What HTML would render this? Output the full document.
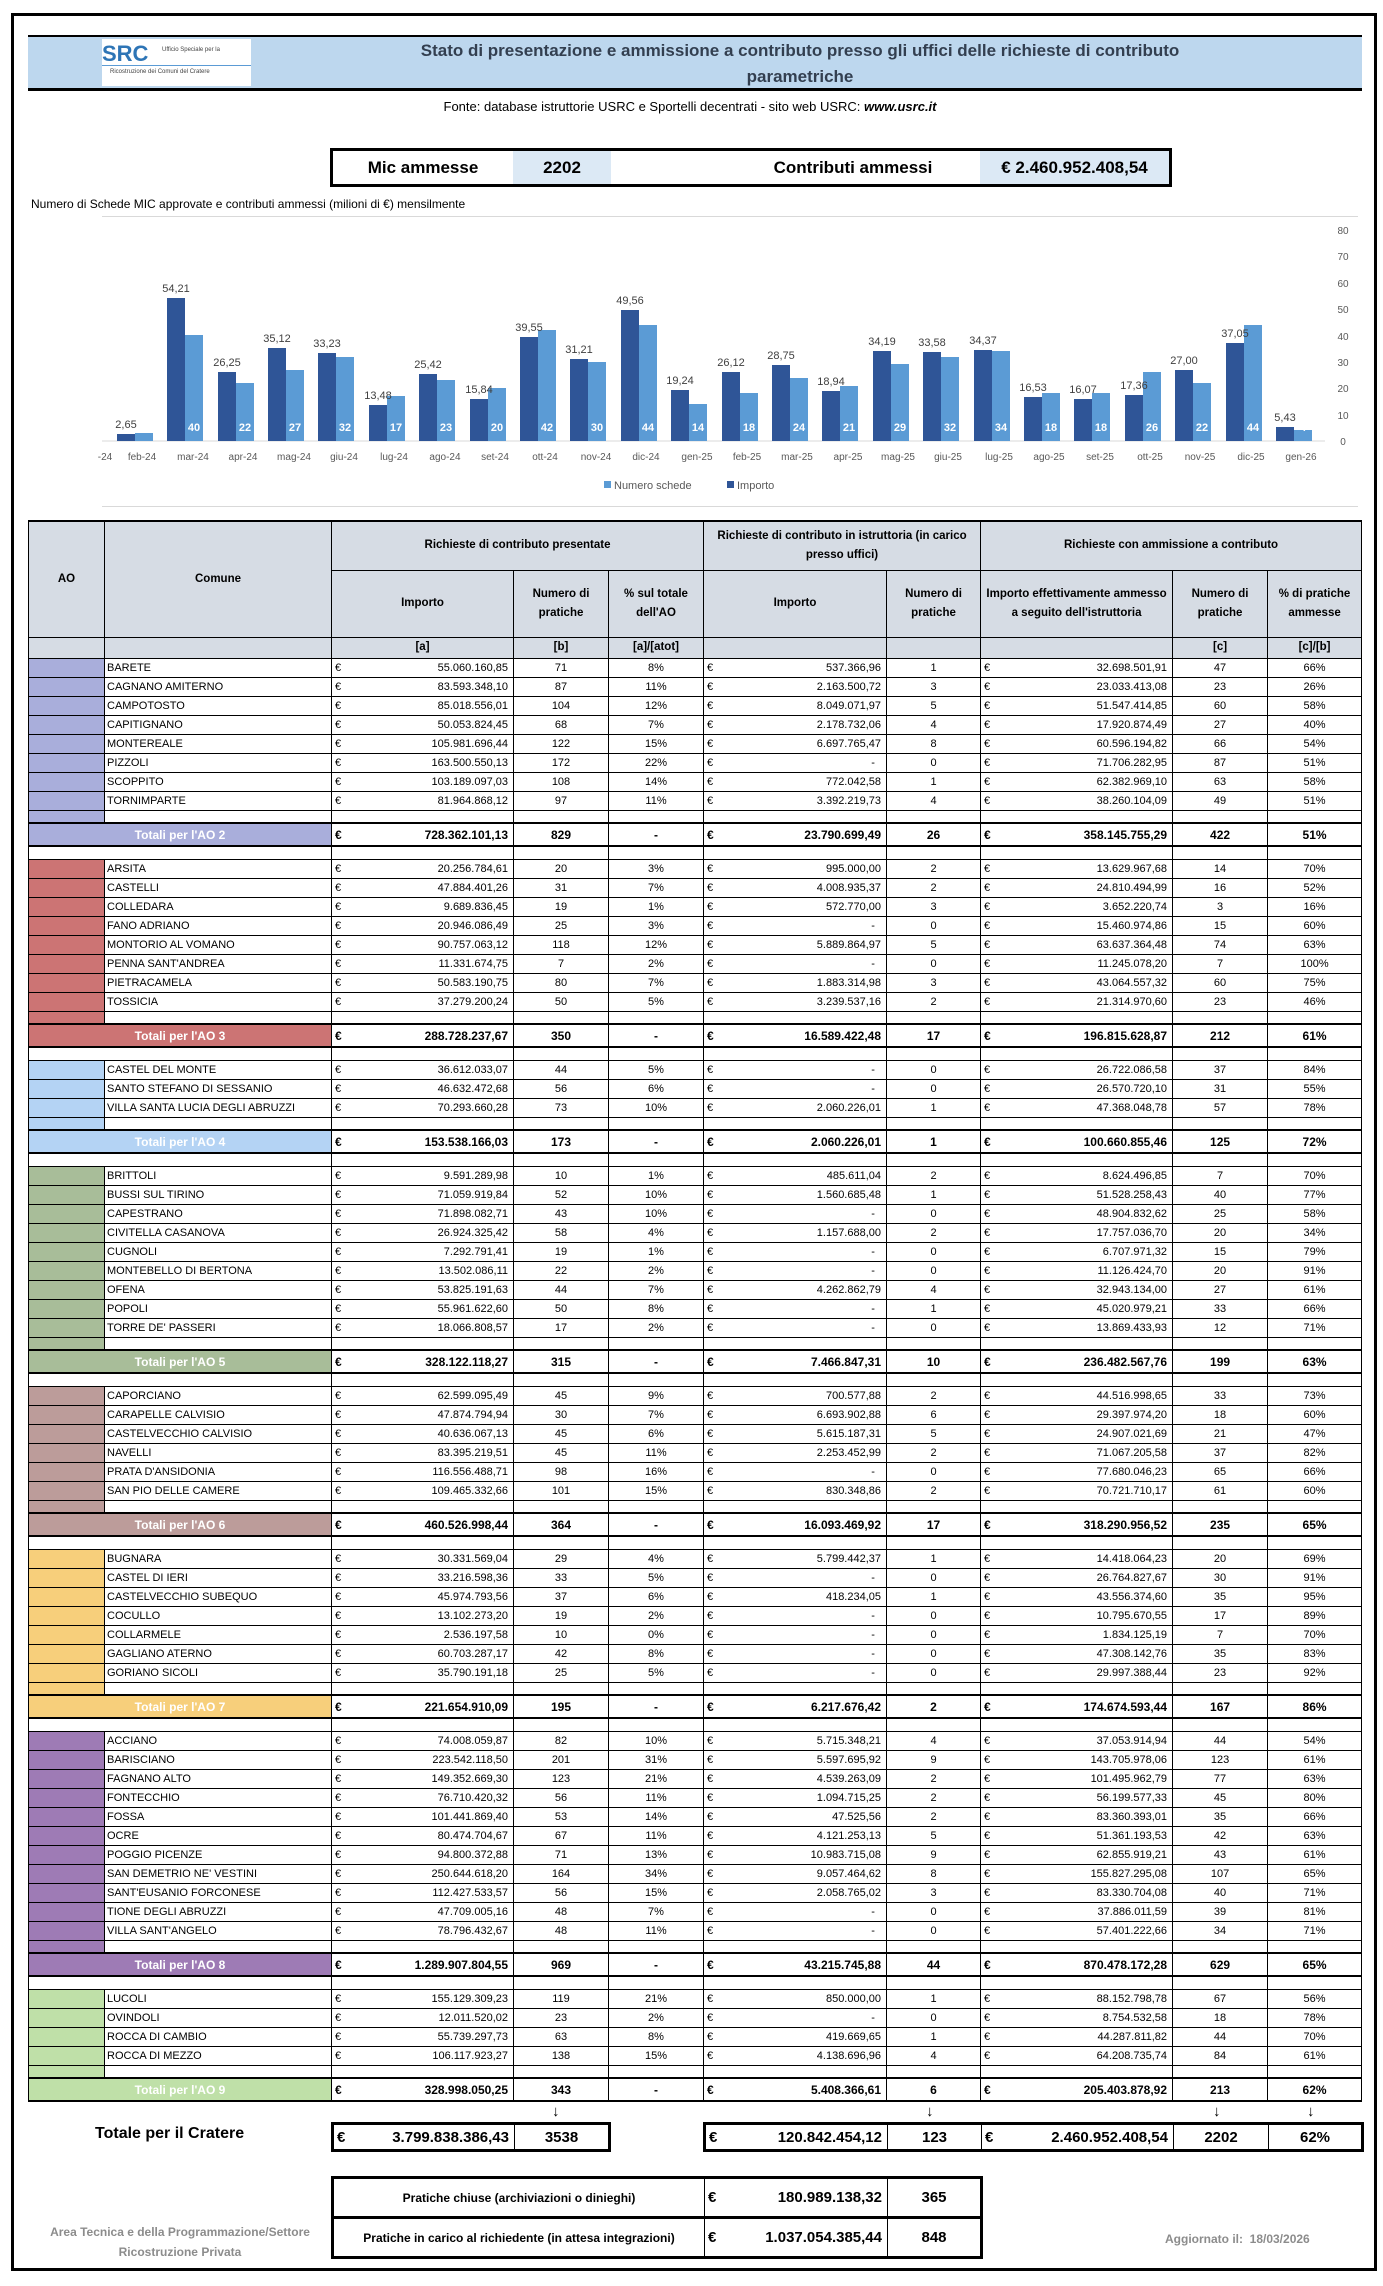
<!DOCTYPE html>
<html><head><meta charset="utf-8">
<style>
*{box-sizing:border-box}
body{margin:0;width:1383px;height:2286px;position:relative;background:#fff;font-family:"Liberation Sans",sans-serif;color:#000;overflow:hidden}
.ab{position:absolute}
#frame{left:11px;top:13px;width:1366px;height:2258px;border:3px solid #000}
#band{left:28px;top:35px;width:1334px;height:56px;background:#bdd7ee;border-top:2px solid #000;border-bottom:3px solid #000}
#logo{left:102px;top:39px;width:149px;height:47px;background:#fff;font-size:22px;font-weight:bold;color:#2e75b6}
#title{left:360px;top:38px;width:880px;text-align:center;font-size:17px;font-weight:bold;color:#333f50;line-height:26px}
#fonte{left:300px;top:99px;width:780px;text-align:center;font-size:13px}
#mic{left:330px;top:148px;width:842px;height:39px;border:3px solid #000;font-weight:bold;font-size:17px}
#mic div{position:absolute;top:0;height:33px;line-height:33px;text-align:center}
#ctitle{left:31px;top:197px;font-size:12px}
#chart{left:102px;top:216px;width:1256px;height:291px;border:1px solid #d9d9d9;border-right:none;border-left:none}
table{border-collapse:collapse;table-layout:fixed;position:absolute;font-size:11px}
td{border:1px solid #000;padding:0 3px;height:19px;text-align:center;white-space:nowrap;overflow:hidden}
td.n{text-align:left;padding-left:2px}
td.m{text-align:right;padding-right:5px}
td.m i{float:left;font-style:normal}
tr.s td{height:13px}
tr.t td{height:23px;font-weight:bold;font-size:12px;border-top:2px solid #000;border-bottom:2px solid #000}
tr.t td.l{color:#fff;text-align:center}
tr.h td{background:#d6dce4;font-weight:bold;font-size:11.5px;white-space:normal;line-height:19px}
.a2{background:#a9aedb}.a3{background:#cc7474}.a4{background:#b4d3f4}.a5{background:#a8bd99}.a6{background:#bc9c9a}.a7{background:#f7cf7b}.a8{background:#9e7bb5}.a9{background:#bfe0a8}
.big td{font-size:15px;font-weight:bold;height:27px}
</style></head><body>
<div class="ab" id="frame"></div>
<div class="ab" id="band"></div>
<div class="ab" id="logo"><span style="position:absolute;left:0;top:2px">SRC</span><span style="position:absolute;left:60px;top:8px;font-size:6px;color:#444;font-weight:normal">Ufficio Speciale per la</span><div style="position:absolute;left:0;top:26px;width:149px;height:1px;background:#5b9bd5"></div><span style="position:absolute;left:8px;top:30px;font-size:6px;color:#444;font-weight:normal">Ricostruzione dei Comuni del Cratere</span></div>
<div class="ab" id="title">Stato di presentazione e ammissione a contributo presso gli uffici delle richieste di contributo<br>parametriche</div>
<div class="ab" id="fonte">Fonte: database istruttorie USRC e Sportelli decentrati - sito web USRC: <b><i>www.usrc.it</i></b></div>
<div class="ab" id="mic">
<div style="left:0;width:180px">Mic ammesse</div>
<div style="left:180px;width:98px;background:#dce9f5">2202</div>
<div style="left:380px;width:280px">Contributi ammessi</div>
<div style="left:647px;width:189px;background:#dce9f5">€ 2.460.952.408,54</div>
</div>
<div class="ab" id="ctitle">Numero di Schede MIC approvate e contributi ammessi (milioni di €) mensilmente</div>
<div class="ab" id="chart"></div>
<svg class="ab" style="left:0;top:0" width="1383" height="520" font-family="Liberation Sans, sans-serif">
<line x1="102" y1="441" x2="1325" y2="441" stroke="#d9d9d9"/>
<g font-size="10" fill="#595959" text-anchor="middle">
<text x="1343" y="445">0</text><text x="1343" y="419">10</text><text x="1343" y="392">20</text><text x="1343" y="366">30</text><text x="1343" y="340">40</text><text x="1343" y="313">50</text><text x="1343" y="287">60</text><text x="1343" y="260">70</text><text x="1343" y="234">80</text>
</g>
<g id="bars"></g>
<g font-size="10" fill="#595959" text-anchor="middle">
<text x="105" y="460">-24</text>
<text x="142" y="460">feb-24</text><text x="193" y="460">mar-24</text><text x="243" y="460">apr-24</text><text x="294" y="460">mag-24</text><text x="344" y="460">giu-24</text><text x="394" y="460">lug-24</text><text x="445" y="460">ago-24</text><text x="495" y="460">set-24</text><text x="545" y="460">ott-24</text><text x="596" y="460">nov-24</text><text x="646" y="460">dic-24</text><text x="697" y="460">gen-25</text><text x="747" y="460">feb-25</text><text x="797" y="460">mar-25</text><text x="848" y="460">apr-25</text><text x="898" y="460">mag-25</text><text x="948" y="460">giu-25</text><text x="999" y="460">lug-25</text><text x="1049" y="460">ago-25</text><text x="1100" y="460">set-25</text><text x="1150" y="460">ott-25</text><text x="1200" y="460">nov-25</text><text x="1251" y="460">dic-25</text><text x="1301" y="460">gen-26</text>
</g>
<rect x="604" y="481" width="7" height="7" fill="#5b9bd5"/><text x="614" y="489" font-size="11" fill="#595959">Numero schede</text>
<rect x="727" y="481" width="7" height="7" fill="#2f5597"/><text x="737" y="489" font-size="11" fill="#595959">Importo</text>
<!-- bars: c=135+i*50.4 -->
<g>
<rect x="117" y="434" width="18" height="7" fill="#2f5597"/><rect x="135" y="433" width="18" height="8" fill="#5b9bd5"/>
<rect x="167" y="298" width="18" height="143" fill="#2f5597"/><rect x="185" y="335" width="18" height="106" fill="#5b9bd5"/>
<rect x="218" y="372" width="18" height="69" fill="#2f5597"/><rect x="236" y="383" width="18" height="58" fill="#5b9bd5"/>
<rect x="268" y="348" width="18" height="93" fill="#2f5597"/><rect x="286" y="370" width="18" height="71" fill="#5b9bd5"/>
<rect x="318" y="353" width="18" height="88" fill="#2f5597"/><rect x="336" y="357" width="18" height="84" fill="#5b9bd5"/>
<rect x="369" y="405" width="18" height="36" fill="#2f5597"/><rect x="387" y="396" width="18" height="45" fill="#5b9bd5"/>
<rect x="419" y="374" width="18" height="67" fill="#2f5597"/><rect x="437" y="380" width="18" height="61" fill="#5b9bd5"/>
<rect x="470" y="399" width="18" height="42" fill="#2f5597"/><rect x="488" y="388" width="18" height="53" fill="#5b9bd5"/>
<rect x="520" y="337" width="18" height="104" fill="#2f5597"/><rect x="538" y="330" width="18" height="111" fill="#5b9bd5"/>
<rect x="570" y="359" width="18" height="82" fill="#2f5597"/><rect x="588" y="362" width="18" height="79" fill="#5b9bd5"/>
<rect x="621" y="310" width="18" height="131" fill="#2f5597"/><rect x="639" y="325" width="18" height="116" fill="#5b9bd5"/>
<rect x="671" y="390" width="18" height="51" fill="#2f5597"/><rect x="689" y="404" width="18" height="37" fill="#5b9bd5"/>
<rect x="722" y="372" width="18" height="69" fill="#2f5597"/><rect x="740" y="393" width="18" height="48" fill="#5b9bd5"/>
<rect x="772" y="365" width="18" height="76" fill="#2f5597"/><rect x="790" y="378" width="18" height="63" fill="#5b9bd5"/>
<rect x="822" y="391" width="18" height="50" fill="#2f5597"/><rect x="840" y="386" width="18" height="55" fill="#5b9bd5"/>
<rect x="873" y="351" width="18" height="90" fill="#2f5597"/><rect x="891" y="364" width="18" height="77" fill="#5b9bd5"/>
<rect x="923" y="352" width="18" height="89" fill="#2f5597"/><rect x="941" y="357" width="18" height="84" fill="#5b9bd5"/>
<rect x="974" y="350" width="18" height="91" fill="#2f5597"/><rect x="992" y="351" width="18" height="90" fill="#5b9bd5"/>
<rect x="1024" y="397" width="18" height="44" fill="#2f5597"/><rect x="1042" y="393" width="18" height="48" fill="#5b9bd5"/>
<rect x="1074" y="399" width="18" height="42" fill="#2f5597"/><rect x="1092" y="393" width="18" height="48" fill="#5b9bd5"/>
<rect x="1125" y="395" width="18" height="46" fill="#2f5597"/><rect x="1143" y="372" width="18" height="69" fill="#5b9bd5"/>
<rect x="1175" y="370" width="18" height="71" fill="#2f5597"/><rect x="1193" y="383" width="18" height="58" fill="#5b9bd5"/>
<rect x="1226" y="343" width="18" height="98" fill="#2f5597"/><rect x="1244" y="325" width="18" height="116" fill="#5b9bd5"/>
<rect x="1276" y="427" width="18" height="14" fill="#2f5597"/><rect x="1294" y="430" width="18" height="11" fill="#5b9bd5"/>
</g>
<g font-size="11" fill="#404040" text-anchor="middle">
<text x="126" y="428">2,65</text><text x="176" y="292">54,21</text><text x="227" y="366">26,25</text><text x="277" y="342">35,12</text><text x="327" y="347">33,23</text><text x="378" y="399">13,48</text><text x="428" y="368">25,42</text><text x="479" y="393">15,84</text><text x="529" y="331">39,55</text><text x="579" y="353">31,21</text><text x="630" y="304">49,56</text><text x="680" y="384">19,24</text><text x="731" y="366">26,12</text><text x="781" y="359">28,75</text><text x="831" y="385">18,94</text><text x="882" y="345">34,19</text><text x="932" y="346">33,58</text><text x="983" y="344">34,37</text><text x="1033" y="391">16,53</text><text x="1083" y="393">16,07</text><text x="1134" y="389">17,36</text><text x="1184" y="364">27,00</text><text x="1235" y="337">37,05</text><text x="1285" y="421">5,43</text>
</g>
<g font-size="11" fill="#fff" text-anchor="middle" font-weight="bold">
<text x="144" y="431">3</text><text x="194" y="431">40</text><text x="245" y="431">22</text><text x="295" y="431">27</text><text x="345" y="431">32</text><text x="396" y="431">17</text><text x="446" y="431">23</text><text x="497" y="431">20</text><text x="547" y="431">42</text><text x="597" y="431">30</text><text x="648" y="431">44</text><text x="698" y="431">14</text><text x="749" y="431">18</text><text x="799" y="431">24</text><text x="849" y="431">21</text><text x="900" y="431">29</text><text x="950" y="431">32</text><text x="1001" y="431">34</text><text x="1051" y="431">18</text><text x="1101" y="431">18</text><text x="1152" y="431">26</text><text x="1202" y="431">22</text><text x="1253" y="431">44</text><text x="1303" y="431">4</text>
</g>
</svg>

<table style="left:28px;top:520px;width:1333px">
<colgroup><col style="width:76px"><col style="width:227px"><col style="width:182px"><col style="width:95px"><col style="width:95px"><col style="width:183px"><col style="width:94px"><col style="width:192px"><col style="width:95px"><col style="width:94px"></colgroup>
<tr class="h" style="border-top:2px solid #000"><td rowspan="2" style="height:116px">AO</td><td rowspan="2">Comune</td><td colspan="3" style="height:49px">Richieste di contributo presentate</td><td colspan="2">Richieste di contributo in istruttoria (in carico presso uffici)</td><td colspan="3">Richieste con ammissione a contributo</td></tr>
<tr class="h"><td style="height:67px">Importo</td><td>Numero di pratiche</td><td>% sul totale dell'AO</td><td>Importo</td><td>Numero di pratiche</td><td>Importo effettivamente ammesso a seguito dell'istruttoria</td><td>Numero di pratiche</td><td>% di pratiche ammesse</td></tr>
<tr class="h"><td style="height:21px"></td><td></td><td>[a]</td><td>[b]</td><td>[a]/[atot]</td><td></td><td></td><td></td><td>[c]</td><td>[c]/[b]</td></tr>

<tr><td class="a2"></td><td class="n">BARETE</td><td class="m"><i>€</i>55.060.160,85</td><td>71</td><td>8%</td><td class="m"><i>€</i>537.366,96</td><td>1</td><td class="m"><i>€</i>32.698.501,91</td><td>47</td><td>66%</td></tr>
<tr><td class="a2"></td><td class="n">CAGNANO AMITERNO</td><td class="m"><i>€</i>83.593.348,10</td><td>87</td><td>11%</td><td class="m"><i>€</i>2.163.500,72</td><td>3</td><td class="m"><i>€</i>23.033.413,08</td><td>23</td><td>26%</td></tr>
<tr><td class="a2"></td><td class="n">CAMPOTOSTO</td><td class="m"><i>€</i>85.018.556,01</td><td>104</td><td>12%</td><td class="m"><i>€</i>8.049.071,97</td><td>5</td><td class="m"><i>€</i>51.547.414,85</td><td>60</td><td>58%</td></tr>
<tr><td class="a2"></td><td class="n">CAPITIGNANO</td><td class="m"><i>€</i>50.053.824,45</td><td>68</td><td>7%</td><td class="m"><i>€</i>2.178.732,06</td><td>4</td><td class="m"><i>€</i>17.920.874,49</td><td>27</td><td>40%</td></tr>
<tr><td class="a2"></td><td class="n">MONTEREALE</td><td class="m"><i>€</i>105.981.696,44</td><td>122</td><td>15%</td><td class="m"><i>€</i>6.697.765,47</td><td>8</td><td class="m"><i>€</i>60.596.194,82</td><td>66</td><td>54%</td></tr>
<tr><td class="a2"></td><td class="n">PIZZOLI</td><td class="m"><i>€</i>163.500.550,13</td><td>172</td><td>22%</td><td class="m"><i>€</i>-&nbsp;&nbsp;</td><td>0</td><td class="m"><i>€</i>71.706.282,95</td><td>87</td><td>51%</td></tr>
<tr><td class="a2"></td><td class="n">SCOPPITO</td><td class="m"><i>€</i>103.189.097,03</td><td>108</td><td>14%</td><td class="m"><i>€</i>772.042,58</td><td>1</td><td class="m"><i>€</i>62.382.969,10</td><td>63</td><td>58%</td></tr>
<tr><td class="a2"></td><td class="n">TORNIMPARTE</td><td class="m"><i>€</i>81.964.868,12</td><td>97</td><td>11%</td><td class="m"><i>€</i>3.392.219,73</td><td>4</td><td class="m"><i>€</i>38.260.104,09</td><td>49</td><td>51%</td></tr>
<tr class="s"><td class="a2"></td><td></td><td></td><td></td><td></td><td></td><td></td><td></td><td></td><td></td></tr>
<tr class="t"><td colspan="2" class="l a2">Totali per l'AO 2</td><td class="m"><i>€</i>728.362.101,13</td><td>829</td><td>-</td><td class="m"><i>€</i>23.790.699,49</td><td>26</td><td class="m"><i>€</i>358.145.755,29</td><td>422</td><td>51%</td></tr>
<tr class="s"><td colspan="2"></td><td></td><td></td><td></td><td></td><td></td><td></td><td></td><td></td></tr>

<tr><td class="a3"></td><td class="n">ARSITA</td><td class="m"><i>€</i>20.256.784,61</td><td>20</td><td>3%</td><td class="m"><i>€</i>995.000,00</td><td>2</td><td class="m"><i>€</i>13.629.967,68</td><td>14</td><td>70%</td></tr>
<tr><td class="a3"></td><td class="n">CASTELLI</td><td class="m"><i>€</i>47.884.401,26</td><td>31</td><td>7%</td><td class="m"><i>€</i>4.008.935,37</td><td>2</td><td class="m"><i>€</i>24.810.494,99</td><td>16</td><td>52%</td></tr>
<tr><td class="a3"></td><td class="n">COLLEDARA</td><td class="m"><i>€</i>9.689.836,45</td><td>19</td><td>1%</td><td class="m"><i>€</i>572.770,00</td><td>3</td><td class="m"><i>€</i>3.652.220,74</td><td>3</td><td>16%</td></tr>
<tr><td class="a3"></td><td class="n">FANO ADRIANO</td><td class="m"><i>€</i>20.946.086,49</td><td>25</td><td>3%</td><td class="m"><i>€</i>-&nbsp;&nbsp;</td><td>0</td><td class="m"><i>€</i>15.460.974,86</td><td>15</td><td>60%</td></tr>
<tr><td class="a3"></td><td class="n">MONTORIO AL VOMANO</td><td class="m"><i>€</i>90.757.063,12</td><td>118</td><td>12%</td><td class="m"><i>€</i>5.889.864,97</td><td>5</td><td class="m"><i>€</i>63.637.364,48</td><td>74</td><td>63%</td></tr>
<tr><td class="a3"></td><td class="n">PENNA SANT'ANDREA</td><td class="m"><i>€</i>11.331.674,75</td><td>7</td><td>2%</td><td class="m"><i>€</i>-&nbsp;&nbsp;</td><td>0</td><td class="m"><i>€</i>11.245.078,20</td><td>7</td><td>100%</td></tr>
<tr><td class="a3"></td><td class="n">PIETRACAMELA</td><td class="m"><i>€</i>50.583.190,75</td><td>80</td><td>7%</td><td class="m"><i>€</i>1.883.314,98</td><td>3</td><td class="m"><i>€</i>43.064.557,32</td><td>60</td><td>75%</td></tr>
<tr><td class="a3"></td><td class="n">TOSSICIA</td><td class="m"><i>€</i>37.279.200,24</td><td>50</td><td>5%</td><td class="m"><i>€</i>3.239.537,16</td><td>2</td><td class="m"><i>€</i>21.314.970,60</td><td>23</td><td>46%</td></tr>
<tr class="s"><td class="a3"></td><td></td><td></td><td></td><td></td><td></td><td></td><td></td><td></td><td></td></tr>
<tr class="t"><td colspan="2" class="l a3">Totali per l'AO 3</td><td class="m"><i>€</i>288.728.237,67</td><td>350</td><td>-</td><td class="m"><i>€</i>16.589.422,48</td><td>17</td><td class="m"><i>€</i>196.815.628,87</td><td>212</td><td>61%</td></tr>
<tr class="s"><td colspan="2"></td><td></td><td></td><td></td><td></td><td></td><td></td><td></td><td></td></tr>

<tr><td class="a4"></td><td class="n">CASTEL DEL MONTE</td><td class="m"><i>€</i>36.612.033,07</td><td>44</td><td>5%</td><td class="m"><i>€</i>-&nbsp;&nbsp;</td><td>0</td><td class="m"><i>€</i>26.722.086,58</td><td>37</td><td>84%</td></tr>
<tr><td class="a4"></td><td class="n">SANTO STEFANO DI SESSANIO</td><td class="m"><i>€</i>46.632.472,68</td><td>56</td><td>6%</td><td class="m"><i>€</i>-&nbsp;&nbsp;</td><td>0</td><td class="m"><i>€</i>26.570.720,10</td><td>31</td><td>55%</td></tr>
<tr><td class="a4"></td><td class="n">VILLA SANTA LUCIA DEGLI ABRUZZI</td><td class="m"><i>€</i>70.293.660,28</td><td>73</td><td>10%</td><td class="m"><i>€</i>2.060.226,01</td><td>1</td><td class="m"><i>€</i>47.368.048,78</td><td>57</td><td>78%</td></tr>
<tr class="s"><td class="a4"></td><td></td><td></td><td></td><td></td><td></td><td></td><td></td><td></td><td></td></tr>
<tr class="t"><td colspan="2" class="l a4">Totali per l'AO 4</td><td class="m"><i>€</i>153.538.166,03</td><td>173</td><td>-</td><td class="m"><i>€</i>2.060.226,01</td><td>1</td><td class="m"><i>€</i>100.660.855,46</td><td>125</td><td>72%</td></tr>
<tr class="s"><td colspan="2"></td><td></td><td></td><td></td><td></td><td></td><td></td><td></td><td></td></tr>

<tr><td class="a5"></td><td class="n">BRITTOLI</td><td class="m"><i>€</i>9.591.289,98</td><td>10</td><td>1%</td><td class="m"><i>€</i>485.611,04</td><td>2</td><td class="m"><i>€</i>8.624.496,85</td><td>7</td><td>70%</td></tr>
<tr><td class="a5"></td><td class="n">BUSSI SUL TIRINO</td><td class="m"><i>€</i>71.059.919,84</td><td>52</td><td>10%</td><td class="m"><i>€</i>1.560.685,48</td><td>1</td><td class="m"><i>€</i>51.528.258,43</td><td>40</td><td>77%</td></tr>
<tr><td class="a5"></td><td class="n">CAPESTRANO</td><td class="m"><i>€</i>71.898.082,71</td><td>43</td><td>10%</td><td class="m"><i>€</i>-&nbsp;&nbsp;</td><td>0</td><td class="m"><i>€</i>48.904.832,62</td><td>25</td><td>58%</td></tr>
<tr><td class="a5"></td><td class="n">CIVITELLA CASANOVA</td><td class="m"><i>€</i>26.924.325,42</td><td>58</td><td>4%</td><td class="m"><i>€</i>1.157.688,00</td><td>2</td><td class="m"><i>€</i>17.757.036,70</td><td>20</td><td>34%</td></tr>
<tr><td class="a5"></td><td class="n">CUGNOLI</td><td class="m"><i>€</i>7.292.791,41</td><td>19</td><td>1%</td><td class="m"><i>€</i>-&nbsp;&nbsp;</td><td>0</td><td class="m"><i>€</i>6.707.971,32</td><td>15</td><td>79%</td></tr>
<tr><td class="a5"></td><td class="n">MONTEBELLO DI BERTONA</td><td class="m"><i>€</i>13.502.086,11</td><td>22</td><td>2%</td><td class="m"><i>€</i>-&nbsp;&nbsp;</td><td>0</td><td class="m"><i>€</i>11.126.424,70</td><td>20</td><td>91%</td></tr>
<tr><td class="a5"></td><td class="n">OFENA</td><td class="m"><i>€</i>53.825.191,63</td><td>44</td><td>7%</td><td class="m"><i>€</i>4.262.862,79</td><td>4</td><td class="m"><i>€</i>32.943.134,00</td><td>27</td><td>61%</td></tr>
<tr><td class="a5"></td><td class="n">POPOLI</td><td class="m"><i>€</i>55.961.622,60</td><td>50</td><td>8%</td><td class="m"><i>€</i>-&nbsp;&nbsp;</td><td>1</td><td class="m"><i>€</i>45.020.979,21</td><td>33</td><td>66%</td></tr>
<tr><td class="a5"></td><td class="n">TORRE DE' PASSERI</td><td class="m"><i>€</i>18.066.808,57</td><td>17</td><td>2%</td><td class="m"><i>€</i>-&nbsp;&nbsp;</td><td>0</td><td class="m"><i>€</i>13.869.433,93</td><td>12</td><td>71%</td></tr>
<tr class="s"><td class="a5"></td><td></td><td></td><td></td><td></td><td></td><td></td><td></td><td></td><td></td></tr>
<tr class="t"><td colspan="2" class="l a5">Totali per l'AO 5</td><td class="m"><i>€</i>328.122.118,27</td><td>315</td><td>-</td><td class="m"><i>€</i>7.466.847,31</td><td>10</td><td class="m"><i>€</i>236.482.567,76</td><td>199</td><td>63%</td></tr>
<tr class="s"><td colspan="2"></td><td></td><td></td><td></td><td></td><td></td><td></td><td></td><td></td></tr>

<tr><td class="a6"></td><td class="n">CAPORCIANO</td><td class="m"><i>€</i>62.599.095,49</td><td>45</td><td>9%</td><td class="m"><i>€</i>700.577,88</td><td>2</td><td class="m"><i>€</i>44.516.998,65</td><td>33</td><td>73%</td></tr>
<tr><td class="a6"></td><td class="n">CARAPELLE CALVISIO</td><td class="m"><i>€</i>47.874.794,94</td><td>30</td><td>7%</td><td class="m"><i>€</i>6.693.902,88</td><td>6</td><td class="m"><i>€</i>29.397.974,20</td><td>18</td><td>60%</td></tr>
<tr><td class="a6"></td><td class="n">CASTELVECCHIO CALVISIO</td><td class="m"><i>€</i>40.636.067,13</td><td>45</td><td>6%</td><td class="m"><i>€</i>5.615.187,31</td><td>5</td><td class="m"><i>€</i>24.907.021,69</td><td>21</td><td>47%</td></tr>
<tr><td class="a6"></td><td class="n">NAVELLI</td><td class="m"><i>€</i>83.395.219,51</td><td>45</td><td>11%</td><td class="m"><i>€</i>2.253.452,99</td><td>2</td><td class="m"><i>€</i>71.067.205,58</td><td>37</td><td>82%</td></tr>
<tr><td class="a6"></td><td class="n">PRATA D'ANSIDONIA</td><td class="m"><i>€</i>116.556.488,71</td><td>98</td><td>16%</td><td class="m"><i>€</i>-&nbsp;&nbsp;</td><td>0</td><td class="m"><i>€</i>77.680.046,23</td><td>65</td><td>66%</td></tr>
<tr><td class="a6"></td><td class="n">SAN PIO DELLE CAMERE</td><td class="m"><i>€</i>109.465.332,66</td><td>101</td><td>15%</td><td class="m"><i>€</i>830.348,86</td><td>2</td><td class="m"><i>€</i>70.721.710,17</td><td>61</td><td>60%</td></tr>
<tr class="s"><td class="a6"></td><td></td><td></td><td></td><td></td><td></td><td></td><td></td><td></td><td></td></tr>
<tr class="t"><td colspan="2" class="l a6">Totali per l'AO 6</td><td class="m"><i>€</i>460.526.998,44</td><td>364</td><td>-</td><td class="m"><i>€</i>16.093.469,92</td><td>17</td><td class="m"><i>€</i>318.290.956,52</td><td>235</td><td>65%</td></tr>
<tr class="s"><td colspan="2"></td><td></td><td></td><td></td><td></td><td></td><td></td><td></td><td></td></tr>

<tr><td class="a7"></td><td class="n">BUGNARA</td><td class="m"><i>€</i>30.331.569,04</td><td>29</td><td>4%</td><td class="m"><i>€</i>5.799.442,37</td><td>1</td><td class="m"><i>€</i>14.418.064,23</td><td>20</td><td>69%</td></tr>
<tr><td class="a7"></td><td class="n">CASTEL DI IERI</td><td class="m"><i>€</i>33.216.598,36</td><td>33</td><td>5%</td><td class="m"><i>€</i>-&nbsp;&nbsp;</td><td>0</td><td class="m"><i>€</i>26.764.827,67</td><td>30</td><td>91%</td></tr>
<tr><td class="a7"></td><td class="n">CASTELVECCHIO SUBEQUO</td><td class="m"><i>€</i>45.974.793,56</td><td>37</td><td>6%</td><td class="m"><i>€</i>418.234,05</td><td>1</td><td class="m"><i>€</i>43.556.374,60</td><td>35</td><td>95%</td></tr>
<tr><td class="a7"></td><td class="n">COCULLO</td><td class="m"><i>€</i>13.102.273,20</td><td>19</td><td>2%</td><td class="m"><i>€</i>-&nbsp;&nbsp;</td><td>0</td><td class="m"><i>€</i>10.795.670,55</td><td>17</td><td>89%</td></tr>
<tr><td class="a7"></td><td class="n">COLLARMELE</td><td class="m"><i>€</i>2.536.197,58</td><td>10</td><td>0%</td><td class="m"><i>€</i>-&nbsp;&nbsp;</td><td>0</td><td class="m"><i>€</i>1.834.125,19</td><td>7</td><td>70%</td></tr>
<tr><td class="a7"></td><td class="n">GAGLIANO ATERNO</td><td class="m"><i>€</i>60.703.287,17</td><td>42</td><td>8%</td><td class="m"><i>€</i>-&nbsp;&nbsp;</td><td>0</td><td class="m"><i>€</i>47.308.142,76</td><td>35</td><td>83%</td></tr>
<tr><td class="a7"></td><td class="n">GORIANO SICOLI</td><td class="m"><i>€</i>35.790.191,18</td><td>25</td><td>5%</td><td class="m"><i>€</i>-&nbsp;&nbsp;</td><td>0</td><td class="m"><i>€</i>29.997.388,44</td><td>23</td><td>92%</td></tr>
<tr class="s"><td class="a7"></td><td></td><td></td><td></td><td></td><td></td><td></td><td></td><td></td><td></td></tr>
<tr class="t"><td colspan="2" class="l a7">Totali per l'AO 7</td><td class="m"><i>€</i>221.654.910,09</td><td>195</td><td>-</td><td class="m"><i>€</i>6.217.676,42</td><td>2</td><td class="m"><i>€</i>174.674.593,44</td><td>167</td><td>86%</td></tr>
<tr class="s"><td colspan="2"></td><td></td><td></td><td></td><td></td><td></td><td></td><td></td><td></td></tr>

<tr><td class="a8"></td><td class="n">ACCIANO</td><td class="m"><i>€</i>74.008.059,87</td><td>82</td><td>10%</td><td class="m"><i>€</i>5.715.348,21</td><td>4</td><td class="m"><i>€</i>37.053.914,94</td><td>44</td><td>54%</td></tr>
<tr><td class="a8"></td><td class="n">BARISCIANO</td><td class="m"><i>€</i>223.542.118,50</td><td>201</td><td>31%</td><td class="m"><i>€</i>5.597.695,92</td><td>9</td><td class="m"><i>€</i>143.705.978,06</td><td>123</td><td>61%</td></tr>
<tr><td class="a8"></td><td class="n">FAGNANO ALTO</td><td class="m"><i>€</i>149.352.669,30</td><td>123</td><td>21%</td><td class="m"><i>€</i>4.539.263,09</td><td>2</td><td class="m"><i>€</i>101.495.962,79</td><td>77</td><td>63%</td></tr>
<tr><td class="a8"></td><td class="n">FONTECCHIO</td><td class="m"><i>€</i>76.710.420,32</td><td>56</td><td>11%</td><td class="m"><i>€</i>1.094.715,25</td><td>2</td><td class="m"><i>€</i>56.199.577,33</td><td>45</td><td>80%</td></tr>
<tr><td class="a8"></td><td class="n">FOSSA</td><td class="m"><i>€</i>101.441.869,40</td><td>53</td><td>14%</td><td class="m"><i>€</i>47.525,56</td><td>2</td><td class="m"><i>€</i>83.360.393,01</td><td>35</td><td>66%</td></tr>
<tr><td class="a8"></td><td class="n">OCRE</td><td class="m"><i>€</i>80.474.704,67</td><td>67</td><td>11%</td><td class="m"><i>€</i>4.121.253,13</td><td>5</td><td class="m"><i>€</i>51.361.193,53</td><td>42</td><td>63%</td></tr>
<tr><td class="a8"></td><td class="n">POGGIO PICENZE</td><td class="m"><i>€</i>94.800.372,88</td><td>71</td><td>13%</td><td class="m"><i>€</i>10.983.715,08</td><td>9</td><td class="m"><i>€</i>62.855.919,21</td><td>43</td><td>61%</td></tr>
<tr><td class="a8"></td><td class="n">SAN DEMETRIO NE' VESTINI</td><td class="m"><i>€</i>250.644.618,20</td><td>164</td><td>34%</td><td class="m"><i>€</i>9.057.464,62</td><td>8</td><td class="m"><i>€</i>155.827.295,08</td><td>107</td><td>65%</td></tr>
<tr><td class="a8"></td><td class="n">SANT'EUSANIO FORCONESE</td><td class="m"><i>€</i>112.427.533,57</td><td>56</td><td>15%</td><td class="m"><i>€</i>2.058.765,02</td><td>3</td><td class="m"><i>€</i>83.330.704,08</td><td>40</td><td>71%</td></tr>
<tr><td class="a8"></td><td class="n">TIONE DEGLI ABRUZZI</td><td class="m"><i>€</i>47.709.005,16</td><td>48</td><td>7%</td><td class="m"><i>€</i>-&nbsp;&nbsp;</td><td>0</td><td class="m"><i>€</i>37.886.011,59</td><td>39</td><td>81%</td></tr>
<tr><td class="a8"></td><td class="n">VILLA SANT'ANGELO</td><td class="m"><i>€</i>78.796.432,67</td><td>48</td><td>11%</td><td class="m"><i>€</i>-&nbsp;&nbsp;</td><td>0</td><td class="m"><i>€</i>57.401.222,66</td><td>34</td><td>71%</td></tr>
<tr class="s"><td class="a8"></td><td></td><td></td><td></td><td></td><td></td><td></td><td></td><td></td><td></td></tr>
<tr class="t"><td colspan="2" class="l a8">Totali per l'AO 8</td><td class="m"><i>€</i>1.289.907.804,55</td><td>969</td><td>-</td><td class="m"><i>€</i>43.215.745,88</td><td>44</td><td class="m"><i>€</i>870.478.172,28</td><td>629</td><td>65%</td></tr>
<tr class="s"><td colspan="2"></td><td></td><td></td><td></td><td></td><td></td><td></td><td></td><td></td></tr>

<tr><td class="a9"></td><td class="n">LUCOLI</td><td class="m"><i>€</i>155.129.309,23</td><td>119</td><td>21%</td><td class="m"><i>€</i>850.000,00</td><td>1</td><td class="m"><i>€</i>88.152.798,78</td><td>67</td><td>56%</td></tr>
<tr><td class="a9"></td><td class="n">OVINDOLI</td><td class="m"><i>€</i>12.011.520,02</td><td>23</td><td>2%</td><td class="m"><i>€</i>-&nbsp;&nbsp;</td><td>0</td><td class="m"><i>€</i>8.754.532,58</td><td>18</td><td>78%</td></tr>
<tr><td class="a9"></td><td class="n">ROCCA DI CAMBIO</td><td class="m"><i>€</i>55.739.297,73</td><td>63</td><td>8%</td><td class="m"><i>€</i>419.669,65</td><td>1</td><td class="m"><i>€</i>44.287.811,82</td><td>44</td><td>70%</td></tr>
<tr><td class="a9"></td><td class="n">ROCCA DI MEZZO</td><td class="m"><i>€</i>106.117.923,27</td><td>138</td><td>15%</td><td class="m"><i>€</i>4.138.696,96</td><td>4</td><td class="m"><i>€</i>64.208.735,74</td><td>84</td><td>61%</td></tr>
<tr class="s"><td class="a9"></td><td></td><td></td><td></td><td></td><td></td><td></td><td></td><td></td><td></td></tr>
<tr class="t"><td colspan="2" class="l a9">Totali per l'AO 9</td><td class="m"><i>€</i>328.998.050,25</td><td>343</td><td>-</td><td class="m"><i>€</i>5.408.366,61</td><td>6</td><td class="m"><i>€</i>205.403.878,92</td><td>213</td><td>62%</td></tr>
</table>

<div class="ab" style="left:552px;top:2103px;font-size:15px">↓</div>
<div class="ab" style="left:926px;top:2103px;font-size:15px">↓</div>
<div class="ab" style="left:1213px;top:2103px;font-size:15px">↓</div>
<div class="ab" style="left:1307px;top:2103px;font-size:15px">↓</div>
<div class="ab" style="left:95px;top:2125px;font-size:16px;font-weight:bold">Totale per il Cratere</div>
<table class="big" style="left:331px;top:2122px;width:277px;border:3px solid #000">
<colgroup><col style="width:182px"><col style="width:95px"></colgroup>
<tr><td class="m" style="border:1px solid #000"><i>€</i>3.799.838.386,43</td><td>3538</td></tr></table>
<table class="big" style="left:703px;top:2122px;width:658px;border:3px solid #000">
<colgroup><col style="width:183px"><col style="width:94px"><col style="width:192px"><col style="width:95px"><col style="width:94px"></colgroup>
<tr><td class="m"><i>€</i>120.842.454,12</td><td>123</td><td class="m"><i>€</i>2.460.952.408,54</td><td>2202</td><td>62%</td></tr></table>

<table style="left:331px;top:2176px;width:649px;border:3px solid #000;font-size:12px;font-weight:bold">
<colgroup><col style="width:372px"><col style="width:183px"><col style="width:94px"></colgroup>
<tr><td style="height:40px;border-bottom:3px solid #000">Pratiche chiuse (archiviazioni o dinieghi)</td><td class="m" style="font-size:15px;border-bottom:3px solid #000"><i>€</i>180.989.138,32</td><td style="font-size:15px;border-bottom:3px solid #000">365</td></tr>
<tr><td style="height:40px;white-space:normal">Pratiche in carico al richiedente (in attesa integrazioni)</td><td class="m" style="font-size:15px"><i>€</i>1.037.054.385,44</td><td style="font-size:15px">848</td></tr>
</table>
<div class="ab" style="left:30px;top:2222px;width:300px;text-align:center;font-size:12px;color:#8c8c8c;font-weight:bold;line-height:20px">Area Tecnica e della Programmazione/Settore<br>Ricostruzione Privata</div>
<div class="ab" style="left:1165px;top:2232px;font-size:12px;color:#8c8c8c;font-weight:bold">Aggiornato il:&nbsp;&nbsp;18/03/2026</div>
</body></html>
